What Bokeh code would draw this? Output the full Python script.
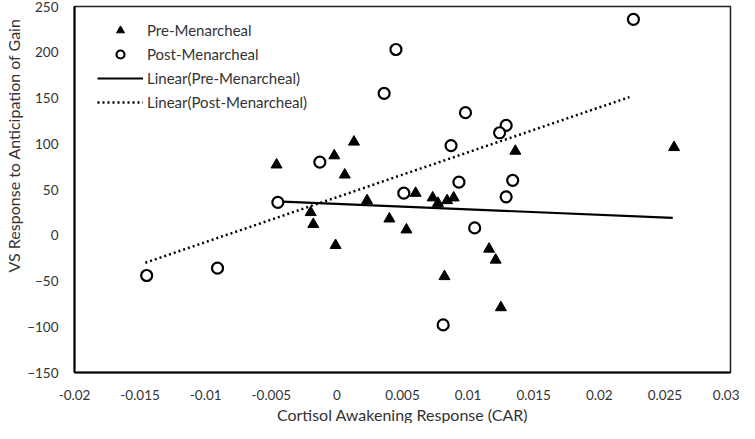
from bokeh.plotting import figure
from bokeh.models import FixedTicker, Legend, LegendItem, Range1d, Title
from bokeh.embed import file_html
from bokeh.resources import INLINE

# Pre-Menarcheal (triangles)
pre_x = [-0.0046, -0.0002, 0.0013, 0.0006, 0.0023, -0.0020, -0.0018, -0.0001,
         0.0040, 0.0053, 0.0060, 0.0073, 0.0077, 0.0084, 0.0089, 0.0136,
         0.0257, 0.0116, 0.0121, 0.0082, 0.0125]
pre_y = [77, 87, 102, 66, 38, 25, 12, -11,
         18, 6, 46, 41, 35, 38, 41, 92,
         96, -15, -27, -45, -79]

# Post-Menarcheal (open circles)
post_x = [0.0226, 0.0045, 0.0036, 0.0098, 0.0129, 0.0124, 0.0087, 0.0093,
          0.0134, 0.0051, 0.0129, -0.0013, -0.0045, -0.0145, -0.0091, 0.0105,
          0.0081]
post_y = [236, 203, 155, 134, 120, 112, 98, 58,
          60, 46, 42, 80, 36, -44, -36, 8,
          -98]

# Trend lines (endpoints)
pre_fit_x = [-0.0046, 0.0256]
pre_fit_y = [37, 19]
post_fit_x = [-0.0146, 0.0223]
post_fit_y = [-30, 151]

x_ticks = [-0.02, -0.015, -0.01, -0.005, 0, 0.005, 0.01, 0.015, 0.02, 0.025, 0.03]
x_tick_labels = ["-0.02", "-0.015", "-0.01", "-0.005", "0", "0.005", "0.01",
                 "0.015", "0.02", "0.025", "0.03"]
y_ticks = [-150, -100, -50, 0, 50, 100, 150, 200, 250]

x_title = "Cortisol Awakening Response (CAR)"
y_title = "VS Response to Anticipation of Gain"

FONT = "Lato"
TXT = "#333333"

p = figure(width=739, height=423, output_backend="svg", toolbar_location=None,
           x_range=Range1d(-0.02, 0.03), y_range=Range1d(-150, 250),
           min_border_left=0, min_border_right=9, min_border_top=6,
           min_border_bottom=0)

p.xgrid.visible = False
p.ygrid.visible = False
p.outline_line_color = "#222222"
p.outline_line_width = 1.5
p.background_fill_color = "white"
p.border_fill_color = "white"

p.xaxis.ticker = FixedTicker(ticks=x_ticks)
p.xaxis.major_label_overrides = {t: l for t, l in zip(x_ticks, x_tick_labels)}
p.yaxis.ticker = FixedTicker(ticks=y_ticks)

for ax in (p.xaxis, p.yaxis):
    ax.axis_line_color = "black"
    ax.axis_line_width = 2
    ax.major_tick_line_color = None
    ax.minor_tick_line_color = None
    ax.major_tick_out = 0
    ax.major_tick_in = 0
    ax.minor_tick_out = 0
    ax.minor_tick_in = 0
    ax.major_label_text_font = FONT
    ax.major_label_text_font_size = "13.5px"
    ax.major_label_text_color = TXT

p.xaxis.major_label_standoff = 17
p.yaxis.major_label_standoff = 16

# axis titles (the y title sits toward the top, as in the original)
xt = Title(text=x_title, align="center", text_font=FONT, text_font_size="16px",
           text_color=TXT, text_font_style="normal", standoff=0)
yt = Title(text=y_title, align="left", offset=100, text_font=FONT,
           text_font_size="16px", text_color=TXT, text_font_style="normal",
           standoff=3)
p.add_layout(xt, "below")
p.add_layout(yt, "left")

r_pre_line = p.line(pre_fit_x, pre_fit_y, line_color="black", line_width=2.2)
r_post_line = p.line(post_fit_x, post_fit_y, line_color="black", line_width=2.5,
                     line_dash="2 3")
r_pre = p.scatter(pre_x, pre_y, marker="triangle", size=11, fill_color="black",
                  line_color="black")
r_post = p.scatter(post_x, post_y, marker="circle", size=11, fill_color="white",
                   line_color="black", line_width=2.2)

legend = Legend(items=[
    LegendItem(label="Pre-Menarcheal", renderers=[r_pre]),
    LegendItem(label="Post-Menarcheal", renderers=[r_post]),
    LegendItem(label="Linear(Pre-Menarcheal)", renderers=[r_pre_line]),
    LegendItem(label="Linear(Post-Menarcheal)", renderers=[r_post_line]),
], location=(23, 260))
legend.border_line_color = None
legend.background_fill_alpha = 0
legend.label_text_font = FONT
legend.label_text_font_size = "15px"
legend.label_text_color = TXT
legend.glyph_width = 46
legend.glyph_height = 20
legend.label_height = 20
legend.spacing = 4
legend.label_standoff = 4
legend.margin = 0
legend.padding = 0
p.add_layout(legend)

open("out.html", "w").write(file_html(p, INLINE))
